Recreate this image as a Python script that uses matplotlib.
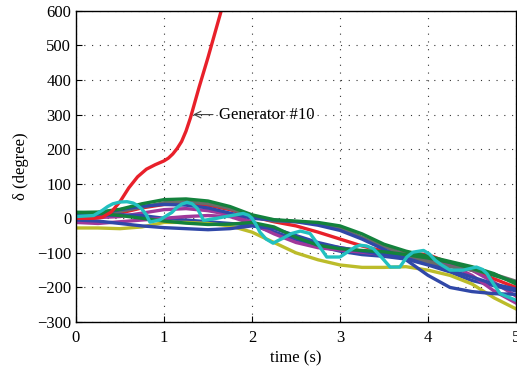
import matplotlib
matplotlib.use('Agg')
import matplotlib.pyplot as plt
import numpy as np

# common time grid for the smooth rotor-angle curves
t = [0, 0.25, 0.5, 0.75, 1.0, 1.25, 1.5, 1.75, 2.0, 2.25, 2.5, 2.75, 3.0,
     3.25, 3.5, 3.75, 4.0, 4.25, 4.5, 4.75, 5.0]

green_a = [17, 18, 26, 42, 54, 56, 50, 34, 10, -4, -8, -12, -22, -45, -75, -95, -110, -125, -140, -160, -190]
green_b = [17, 15, 8, 0, -8, -14, -18, -17, -12, -25, -55, -78, -88, -93, -97, -105, -115, -128, -145, -165, -185]
gray_a = [10, 12, 20, 32, 45, 48, 42, 28, 5, -8, -10, -15, -28, -55, -82, -105, -125, -140, -150, -162, -182]
red_b = [5, 8, 15, 30, 40, 42, 38, 25, 5, -10, -22, -40, -60, -80, -95, -100, -105, -130, -150, -175, -200]
blue_a = [10, 12, 25, 35, 40, 38, 30, 15, 0, -5, -10, -20, -35, -60, -90, -120, -165, -200, -212, -218, -220]
blue_b = [-5, -8, -15, -22, -27, -30, -33, -30, -22, -30, -50, -70, -85, -95, -105, -115, -130, -150, -170, -190, -205]
blue_c = [5, 8, 10, 8, 0, -5, -10, -15, -20, -40, -60, -80, -95, -105, -110, -118, -135, -155, -180, -195, -210]
magenta_a = [-12, -15, -10, -5, 0, 5, 8, 5, -15, -45, -70, -85, -92, -98, -105, -112, -120, -135, -165, -210, -245]
magenta_b = [0, 2, 5, 15, 25, 28, 22, 10, -10, -40, -65, -75, -85, -95, -100, -105, -112, -130, -150, -185, -225]
yellow_a = [-28, -28, -30, -25, -12, -12, -15, -22, -40, -70, -100, -120, -135, -142, -142, -140, -150, -165, -190, -230, -262]

# cyan generator (oscillating)
t_cyan = [0, 0.2, 0.3, 0.36, 0.42, 0.5, 0.58, 0.65, 0.7, 0.75, 0.8, 0.84, 0.95, 1.02, 1.09,
          1.14, 1.2, 1.26, 1.32, 1.38, 1.45, 1.6, 1.7, 1.79, 1.9, 1.96, 2.0, 2.05, 2.09,
          2.16, 2.24, 2.3, 2.35, 2.45, 2.55, 2.66, 2.75, 2.85, 3.0, 3.1, 3.18, 3.23, 3.3,
          3.38, 3.48, 3.57, 3.68, 3.76, 3.83, 3.95, 4.02, 4.08, 4.16, 4.25, 4.4, 4.5,
          4.55, 4.62, 4.67, 4.75, 4.82, 5.0]
v_cyan = [5, 8, 23, 34, 42, 47, 48, 44, 37, 26, 10, -11, -5, 6, 17,
          30, 41, 46, 42, 28, -6, 0, 5, 9, 14, 9, 0, -20, -40,
          -60, -72, -64, -58, -44, -37, -44, -75, -112, -112, -95, -82, -78, -80,
          -88, -115, -141, -141, -112, -98, -93, -104, -121, -136, -150, -150, -144,
          -141, -148, -160, -192, -218, -237]

# generator #10 loses synchronism
t_red = [0, 0.1, 0.2, 0.3, 0.4, 0.5, 0.6, 0.7, 0.8, 0.9, 1.0, 1.05, 1.1, 1.15, 1.2, 1.25,
         1.3, 1.4, 1.5, 1.6, 1.65]
v_red = [0, 0, 0, 3, 18, 48, 88, 120, 142, 155, 166, 174, 186, 202, 222, 252,
         290, 380, 465, 555, 600]

GREEN = '#13823c'
BLUE = '#3048a8'
CYAN = '#22c0c0'
MAGENTA = '#a0389a'
YELLOW = '#bcbc2a'
GRAY = '#6a6a6a'
RED = '#e8202a'

plt.rcParams['font.family'] = ['Liberation Serif', 'DejaVu Serif']

fig = plt.figure(figsize=(5.17, 3.74), dpi=100)
ax = fig.add_axes([0.147, 0.139, 0.851, 0.832])

lw = 2.4
ax.plot(t, red_b, color=RED, lw=lw)
ax.plot(t, magenta_b, color=MAGENTA, lw=lw)
ax.plot(t, blue_c, color=BLUE, lw=lw)
ax.plot(t, yellow_a, color=YELLOW, lw=lw)
ax.plot(t, magenta_a, color=MAGENTA, lw=lw)
ax.plot(t, blue_b, color=BLUE, lw=lw)
ax.plot(t, gray_a, color=GRAY, lw=lw)
ax.plot(t, blue_a, color=BLUE, lw=lw)
ax.plot(t, green_b, color=GREEN, lw=lw)
ax.plot(t, green_a, color=GREEN, lw=lw)
ax.plot(t_red, v_red, color=RED, lw=lw)
ax.plot(t_cyan, v_cyan, color=CYAN, lw=lw)

ax.set_xlim(0, 5)
ax.set_ylim(-300, 600)
ax.set_xticks(np.arange(0, 6, 1))
ax.set_yticks(np.arange(-300, 700, 100))
ax.grid(True, color='#333333', linestyle=(0, (1, 6)), linewidth=0.8)
ax.tick_params(direction='in', labelsize=12, length=4)
ax.tick_params(axis='x', pad=6)
for s in ax.spines.values():
    s.set_linewidth(1.0)

ax.annotate('Generator #10', xy=(1.33, 300), xytext=(1.62, 300),
            va='center', ha='left', fontsize=12,
            arrowprops=dict(arrowstyle='->', lw=0.8, color='#444444',
                            shrinkA=2, shrinkB=0))

ax.set_xlabel('time (s)', fontsize=12, labelpad=3)
ax.set_ylabel('δ (degree)', fontsize=12, labelpad=6)

fig.savefig('out.png', dpi=100)
